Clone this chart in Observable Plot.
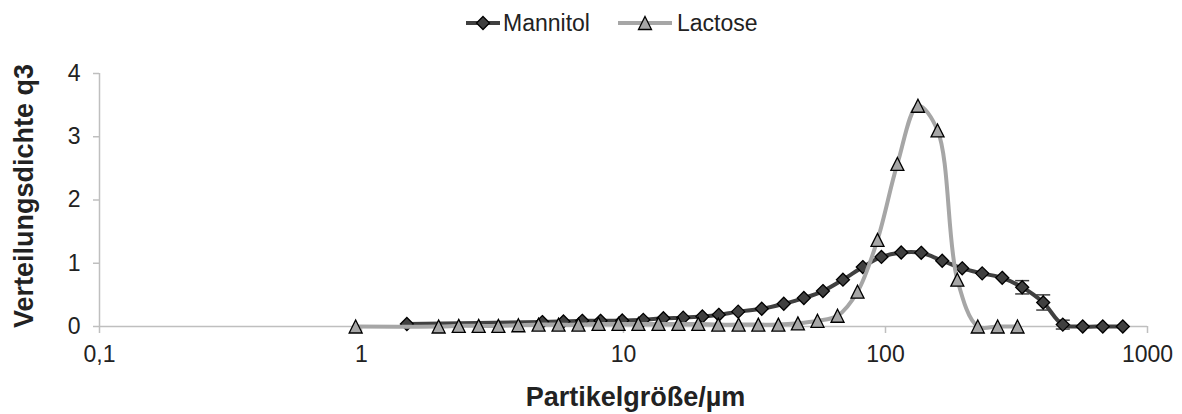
<!DOCTYPE html>
<html><head><meta charset="utf-8">
<script src="https://cdn.jsdelivr.net/npm/d3@7"></script>
<script src="https://cdn.jsdelivr.net/npm/@observablehq/plot@0.6"></script>
<style>
body{margin:0;background:#fff;font-family:"Liberation Sans",Arial,sans-serif;}
#wrap{position:relative;width:1182px;height:414px;overflow:hidden;}
#legend{position:absolute;left:0;top:0;}
</style></head><body>
<div id="wrap"><div id="chart"></div>
<svg id="legend" width="1182" height="46" font-family="Liberation Sans, Arial, sans-serif" font-size="23" fill="#222">
  <line x1="466" y1="23" x2="500" y2="23" stroke="#404040" stroke-width="4"/>
  <path d="M483,16.5L489.5,23L483,29.5L476.5,23Z" fill="#404040" stroke="#000" stroke-width="1.3"/>
  <text x="503" y="31">Mannitol</text>
  <line x1="618" y1="23" x2="672" y2="23" stroke="#a6a6a6" stroke-width="4"/>
  <path d="M645,16.5L651.5,29.5L638.5,29.5Z" fill="#a6a6a6" stroke="#000" stroke-width="1.3"/>
  <text x="677" y="31">Lactose</text>
</svg>
</div>
<script>
// Mannitol
const mannitolSize = [1.49, 4.90, 5.90, 6.96, 8.17, 9.89, 11.9, 14.2, 16.9, 20.0, 23.1, 27.4, 33.7, 40.9, 48.8, 57.7, 68.8, 81.9, 96.5, 114.8, 136.9, 164.6, 196.2, 233.9, 278.9, 332.4, 399.9, 475, 566, 675, 805];
const mannitolQ3 = [0.04, 0.07, 0.08, 0.09, 0.09, 0.095, 0.105, 0.13, 0.14, 0.158, 0.185, 0.235, 0.28, 0.36, 0.45, 0.56, 0.74, 0.94, 1.10, 1.17, 1.165, 1.04, 0.92, 0.84, 0.77, 0.62, 0.38, 0.03, 0, 0, 0];
const mannitolErr = [0, 0, 0, 0, 0, 0, 0, 0, 0, 0, 0, 0, 0, 0, 0, 0, 0, 0, 0, 0, 0, 0, 0, 0, 0, 0.105, 0.12, 0.07, 0, 0, 0];
// Lactose
const lactoseSize = [0.95, 1.97, 2.35, 2.80, 3.33, 3.97, 4.74, 5.65, 6.73, 8.03, 9.57, 11.4, 13.6, 16.2, 19.3, 23.0, 27.5, 32.7, 39.0, 46.3, 55.0, 65.6, 78.2, 93.2, 111, 133, 158, 188, 225, 268, 319];
const lactoseQ3 = [0, 0, 0.01, 0.01, 0.01, 0.02, 0.03, 0.03, 0.03, 0.04, 0.04, 0.04, 0.04, 0.04, 0.04, 0.03, 0.03, 0.03, 0.03, 0.05, 0.09, 0.17, 0.55, 1.37, 2.57, 3.49, 3.10, 0.74, 0, 0, 0];
// Axes
const xTicks = [0.1, 1, 10, 100, 1000];
const xTickLabels = ["0,1", "1", "10", "100", "1000"];
const yTicks = [0, 1, 2, 3, 4];
const xTitle = "Partikelgröße/µm";
const yTitle = "Verteilungsdichte q3";

const mannitol = mannitolSize.map((x, i) => ({x, y: mannitolQ3[i], e: mannitolErr[i]}));
const lactose = lactoseSize.map((x, i) => ({x, y: lactoseQ3[i]}));
const errs = mannitol.filter(d => d.e > 0).map(d => ({x: d.x, lo: d.y - d.e, hi: d.y + d.e}));

const diamond = {draw(ctx, size) { const r = Math.sqrt(size / Math.PI); ctx.moveTo(0, -r); ctx.lineTo(r, 0); ctx.lineTo(0, r); ctx.lineTo(-r, 0); ctx.closePath(); }};
const triangle = {draw(ctx, size) { const r = Math.sqrt(size / Math.PI); ctx.moveTo(0, -r); ctx.lineTo(r, r); ctx.lineTo(-r, r); ctx.closePath(); }};
const cap = {draw(ctx, size) { const r = Math.sqrt(size / Math.PI); ctx.moveTo(-r, 0); ctx.lineTo(r, 0); }};

const chart = Plot.plot({
  width: 1182, height: 414,
  marginLeft: 99, marginRight: 35, marginTop: 73, marginBottom: 88,
  style: {fontFamily: "Liberation Sans, Arial, sans-serif", fontSize: "23px", color: "#222", background: "white", overflow: "visible"},
  x: {type: "log", domain: [0.1, 1000]},
  y: {domain: [0, 4]},
  marks: [
    Plot.ruleX([0.1], {stroke: "#bfbfbf", strokeWidth: 1.5}),
    Plot.ruleY([0], {stroke: "#bfbfbf", strokeWidth: 1.5}),
    Plot.axisY({ticks: yTicks, tickFormat: d => String(d), tickSize: 6, tickPadding: 13, label: null, fontSize: 23, stroke: "#bfbfbf", fill: "#222", strokeWidth: 1.5}),
    Plot.axisX({ticks: xTicks, tickFormat: (d) => xTickLabels[xTicks.indexOf(d)], tickSize: 7, tickPadding: 12, label: null, fontSize: 23, stroke: "#bfbfbf", fill: "#222", strokeWidth: 1.5}),
    Plot.text([xTitle], {frameAnchor: "bottom", dx: 12, dy: 60, lineAnchor: "top", textAnchor: "middle", text: d => d, fontSize: 27, fontWeight: "bold", fill: "#222"}),
    Plot.text([yTitle], {frameAnchor: "left", dx: -75, dy: -4, rotate: -90, textAnchor: "middle", lineAnchor: "middle", text: d => d, fontSize: 27, fontWeight: "bold", fill: "#222"}),
    Plot.line(mannitol, {x: "x", y: "y", curve: "catmull-rom", stroke: "#404040", strokeWidth: 4}),
    Plot.ruleX(errs, {x: "x", y1: "lo", y2: "hi", stroke: "#404040", strokeWidth: 1.5}),
    Plot.dot(errs, {x: "x", y: "hi", symbol: cap, r: 7, stroke: "#404040", strokeWidth: 1.5}),
    Plot.dot(errs, {x: "x", y: "lo", symbol: cap, r: 7, stroke: "#404040", strokeWidth: 1.5}),
    Plot.dot(mannitol, {x: "x", y: "y", symbol: diamond, r: 6.5, fill: "#404040", stroke: "#000", strokeWidth: 1.3}),
    Plot.line(lactose, {x: "x", y: "y", curve: "catmull-rom", stroke: "#a6a6a6", strokeWidth: 4}),
    Plot.dot(lactose, {x: "x", y: "y", symbol: triangle, r: 6.5, fill: "#a6a6a6", stroke: "#000", strokeWidth: 1.3})
  ]
});
document.getElementById("chart").appendChild(chart);
</script>
</body></html>
